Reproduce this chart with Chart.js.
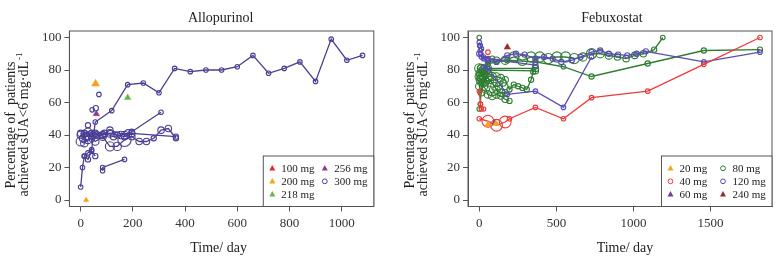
<!DOCTYPE html>
<html>
<head>
<meta charset="utf-8">
<script src="https://cdn.jsdelivr.net/npm/chart.js@4.4.0/dist/chart.umd.min.js"></script>
<style>
  html, body { margin: 0; padding: 0; background: #fff; }
  #wrap { position: relative; width: 783px; height: 264px; }
  canvas { position: absolute; top: 0; }
</style>
</head>
<body>
<div id="wrap">
  <canvas id="allo" width="391" height="264" style="left:0"></canvas>
  <canvas id="febu" width="392" height="264" style="left:391px"></canvas>
</div>
<script>
// ---- axis text ----
var xTitle = 'Time/ day';
var yTitle = ['Percentage of  patients', 'achieved sUA<6 mg\u00b7dL'];
var yTitleSup = '-1';
var yTicks = [0, 20, 40, 60, 80, 100];
var yTickLabels = ['0', '20', '40', '60', '80', '100'];
var xTicksAllo = [0, 200, 400, 600, 800, 1000];
var xTickLabelsAllo = ['0', '200', '400', '600', '800', '1000'];
var xTicksFebu = [0, 500, 1000, 1500];
var xTickLabelsFebu = ['0', '500', '1000', '1500'];

// ---- Allopurinol: [day, % at target, patients] ----
var allo100 = [];
var allo200 = [[57, 71.5, 60], [21, 0, 25]];
var allo218 = [[180, 63, 40]];
var allo256 = [[60, 53, 40]];
var allo300_long = [[0, 8, 30], [7, 20, 30], [14, 27, 30], [28, 29, 30], [42, 31, 30], [56, 48, 30], [119, 55, 30],
  [180, 71, 30], [240, 72, 30], [300, 66, 30], [360, 81, 30], [420, 79, 30], [480, 80, 30], [540, 80, 30],
  [600, 82, 30], [660, 89, 30], [720, 78, 30], [780, 81, 30], [840, 85, 30], [900, 73, 30], [960, 99, 30],
  [1020, 86, 30], [1080, 89, 30]];
var allo300_a = [[0, 41, 60], [28, 42, 80], [56, 41, 60], [84, 40, 60], [112, 43, 60], [168, 40, 80], [196, 42, 40], [308, 54, 30]];
var allo300_b = [[0, 40, 80], [14, 41, 60], [28, 39, 60], [56, 40, 60], [84, 40, 80], [112, 41, 80], [140, 40, 60],
  [168, 39, 60], [196, 41, 60], [365, 39, 40]];
var allo300_c = [[0, 36, 120], [14, 35, 80], [28, 37, 80], [42, 38, 60], [56, 36, 80], [84, 39, 80], [112, 33, 120],
  [140, 33, 100], [168, 37, 250], [196, 39, 60], [224, 36, 60], [252, 36, 60], [280, 38, 40], [308, 43, 60],
  [336, 44, 60], [365, 38, 40]];
var allo300_d = [[7, 38, 60], [21, 39, 80], [42, 41, 60], [63, 40, 60], [91, 41, 60], [126, 39, 60], [154, 40, 80], [182, 41, 80]];
var allo300_e = [[14, 27, 30], [28, 25, 40], [42, 30, 30], [56, 27, 40]];
var allo300_f = [[84, 18, 30], [84, 20, 30], [168, 25, 30]];
var allo300_single = [[28, 46, 40], [44, 55.5, 30], [58, 56.5, 40], [70, 65, 30]];

// ---- Febuxostat ----
var febu20 = [[56, 46.5, 40], [108, 47, 40]];
var febu60 = [[100, 47.5, 30]];
var febu240 = [[182, 94, 40]];
var febu40_a = [[0, 50, 30], [56, 48.5, 200], [112, 46, 200], [168, 48, 200], [196, 50, 30], [364, 57, 30], [546, 50, 30],
  [728, 63, 30], [1092, 67, 30], [1456, 83.5, 30], [1820, 100, 30]];
var febu40_b = [[0, 67, 20], [8, 59, 20], [14, 56, 20], [28, 56, 20]];
var febu40_c = [[56, 91, 30]];
var febu120_a = [[0, 90, 40], [14, 88, 30], [28, 87, 30], [56, 86, 40], [112, 85, 40], [182, 89, 40], [238, 90, 40],
  [294, 89.5, 40], [364, 87, 40], [420, 88, 40], [476, 87, 40], [532, 85, 40], [600, 86, 40], [656, 88, 40],
  [728, 91, 40], [784, 92, 40], [840, 90, 40], [900, 89.5, 40], [960, 89, 40], [1020, 90, 40], [1080, 91.5, 40],
  [1456, 85, 30], [1820, 91, 30]];
var febu120_b = [[0, 97, 30], [7, 95, 30], [14, 93, 30], [28, 88, 30], [56, 87, 30], [364, 83, 40]];
var febu120_c = [[28, 82, 30], [56, 81, 30], [182, 65, 30], [364, 67, 30], [546, 57, 30], [728, 88, 30]];
var febu120_single = [[3, 95, 30], [7, 92, 30], [10, 90, 30]];
var febu80_top = [[0, 100, 30]];
var febu80_a = [[0, 78, 60], [14, 81, 80], [28, 80, 100], [56, 86, 40], [84, 87, 40], [112, 86, 60], [168, 86, 100],
  [224, 88, 150], [280, 86, 150], [336, 88, 150], [392, 88, 150], [448, 87, 150], [504, 88, 150], [560, 88, 150],
  [616, 87, 150], [672, 88, 100], [728, 90, 150], [784, 90, 100], [840, 89, 80], [896, 88, 60], [952, 87, 60],
  [1008, 89, 60], [1064, 90, 60], [1134, 92.5, 40], [1190, 100, 30]];
var febu80_b = [[0, 56, 30], [7, 59, 30], [14, 72, 40], [28, 79, 40], [56, 84, 40], [182, 86, 40], [364, 85, 40],
  [546, 82, 30], [728, 76, 40], [1092, 84, 40], [1456, 92, 40], [1820, 92.5, 40]];
var febu80_c = [[14, 81, 100], [28, 80, 120], [56, 81, 80], [364, 81, 60]];
var febu80_d = [[14, 79, 80], [28, 78, 80], [56, 80, 60], [364, 79.5, 60]];
var febu80_e = [[0, 76, 100], [7, 74, 100], [14, 73, 120], [28, 70, 100], [42, 68, 80], [56, 65, 80], [84, 64, 80],
  [112, 65, 80], [140, 64, 60], [168, 62, 60], [196, 61, 40]];
var febu80_f = [[0, 81, 120], [14, 77, 120], [28, 76, 100], [56, 75, 100], [84, 72, 100], [112, 68, 80], [140, 66, 80], [168, 66, 60]];
var febu80_g = [[0, 70, 80], [14, 66, 60], [28, 72, 80], [56, 78, 80], [84, 76, 100], [112, 76, 80], [140, 75, 80],
  [168, 74, 60], [196, 68, 40], [224, 71, 40], [252, 70, 40], [280, 69, 40], [308, 68, 40], [336, 74, 40],
  [350, 79, 40], [364, 82, 30]];
var febu80_h = [[7, 75, 60], [21, 74, 80], [42, 73, 80], [70, 74, 80], [98, 70, 80], [126, 70, 80], [154, 72, 60]];

// ---- legends ----
var alloDoses = ['100 mg', '200 mg', '218 mg', '256 mg', '300 mg'];
var alloShapes = ['triangle', 'triangle', 'triangle', 'triangle', 'circle'];
var alloColors = ['#e8262a', '#f7a21b', '#63b847', '#8e3b91', '#4a3f94'];
var febuDoses = ['20 mg', '40 mg', '60 mg', '80 mg', '120 mg', '240 mg'];
var febuShapes = ['triangle', 'circle', 'triangle', 'circle', 'circle', 'triangle'];
var febuColors = ['#f7a21b', '#f03a3a', '#6b3fa0', '#2f7d32', '#5a4cb4', '#9e2a2b'];

Chart.defaults.font.family = '"Liberation Serif", "Times New Roman", serif';
Chart.defaults.color = '#222';

function radius(n) { return Math.max(2.2, Math.sqrt(n) / 2.4); }

function arm(points, color, withLine) {
  return {
    data: points.map(function (p) { return { x: p[0], y: p[1], n: p[2] }; }),
    showLine: withLine,
    borderColor: color,
    backgroundColor: color,
    borderWidth: 1.3,
    pointStyle: 'circle',
    pointBackgroundColor: 'rgba(0,0,0,0)',
    pointBorderColor: color,
    pointBorderWidth: 1.1,
    pointRadius: function (c) { return c.raw ? radius(c.raw.n) : 2.5; }
  };
}

function tri(points, color) {
  return {
    data: points.map(function (p) { return { x: p[0], y: p[1], n: p[2] }; }),
    showLine: false,
    pointStyle: 'triangle',
    backgroundColor: color,
    borderColor: color,
    pointBorderWidth: 0.5,
    pointRadius: function (c) { return c.raw ? Math.max(2.8, Math.sqrt(c.raw.n) / 1.7) : 3; }
  };
}

var panelFrame = {
  id: 'panelFrame',
  afterDraw: function (chart, args, o) {
    var ctx = chart.ctx, a = chart.chartArea;
    var cx = (a.left + a.right) / 2;
    ctx.save();
    ctx.strokeStyle = '#555';
    ctx.lineWidth = 1;
    ctx.strokeRect(a.left, a.top, a.right - a.left, a.bottom - a.top);

    ctx.fillStyle = '#222';
    ctx.textAlign = 'center';
    ctx.textBaseline = 'middle';
    ctx.font = '14px "Liberation Serif"';
    ctx.fillText(o.title, cx + o.titleDx, 18);
    ctx.fillText(xTitle, cx + o.xTitleDx, 248);

    // rotated y title, two lines
    ctx.save();
    ctx.translate(a.left - 58, 125);
    ctx.rotate(-Math.PI / 2);
    ctx.fillText(yTitle[0], 0, 0);
    var w1 = ctx.measureText(yTitle[1]).width;
    ctx.font = '9px "Liberation Serif"';
    var w2 = ctx.measureText(yTitleSup).width;
    ctx.textAlign = 'left';
    ctx.font = '14px "Liberation Serif"';
    ctx.fillText(yTitle[1], -(w1 + w2) / 2, 13);
    ctx.font = '9px "Liberation Serif"';
    ctx.fillText(yTitleSup, -(w1 + w2) / 2 + w1 + 1, 8);
    ctx.restore();

    // legend box in the bottom right corner
    var lw = 110.5, lh = 50.5;
    var lx = a.right - lw, ly = a.bottom - lh;
    ctx.fillStyle = '#fff';
    ctx.fillRect(lx, ly, lw, lh);
    ctx.strokeRect(lx, ly, lw, lh);
    ctx.font = '11px "Liberation Serif"';
    ctx.textAlign = 'left';
    for (var i = 0; i < o.labels.length; i++) {
      var col = Math.floor(i / 3), row = i % 3;
      var sx = lx + (col ? 61.5 : 9), sy = ly + 12.3 + row * 13;
      ctx.fillStyle = o.colors[i];
      ctx.strokeStyle = o.colors[i];
      if (o.shapes[i] === 'triangle') {
        ctx.beginPath();
        ctx.moveTo(sx, sy - 3.3);
        ctx.lineTo(sx + 3, sy + 2.2);
        ctx.lineTo(sx - 3, sy + 2.2);
        ctx.closePath();
        ctx.fill();
      } else {
        ctx.lineWidth = 1;
        ctx.beginPath();
        ctx.arc(sx, sy, 2.4, 0, Math.PI * 2);
        ctx.stroke();
      }
      ctx.fillStyle = '#222';
      ctx.fillText(o.labels[i], lx + (col ? 71 : 18), sy + 0.5);
    }
    ctx.restore();
  }
};

function scales(xMin, xMax, xTicks, xLabels, yWidth) {
  var tickFont = { size: 13 };
  return {
    x: {
      type: 'linear', min: xMin, max: xMax,
      afterBuildTicks: function (s) { s.ticks = xTicks.map(function (v) { return { value: v }; }); },
      afterFit: function (s) { s.height = 57.5; },
      ticks: { font: tickFont, color: '#333', padding: 4, autoSkip: false, maxRotation: 0,
        callback: function (v, i) { return xLabels[i]; } },
      grid: { drawOnChartArea: false, drawTicks: true, tickLength: 5, color: '#555' },
      border: { display: true, color: '#555' }
    },
    y: {
      type: 'linear', min: -4, max: 104,
      afterBuildTicks: function (s) { s.ticks = yTicks.map(function (v) { return { value: v }; }); },
      afterFit: function (s) { s.width = yWidth; },
      ticks: { font: tickFont, color: '#333', padding: 3, autoSkip: false,
        callback: function (v, i) { return yTickLabels[i]; } },
      grid: { drawOnChartArea: false, drawTicks: true, tickLength: 5, color: '#555' },
      border: { display: true, color: '#555' }
    }
  };
}

var navy = alloColors[4];
new Chart(document.getElementById('allo').getContext('2d'), {
  type: 'scatter',
  data: {
    datasets: [
      tri(allo100, alloColors[0]),
      tri(allo200, alloColors[1]),
      tri(allo218, alloColors[2]),
      tri(allo256, alloColors[3]),
      arm(allo300_long, navy, true),
      arm(allo300_a, navy, true),
      arm(allo300_b, navy, true),
      arm(allo300_c, navy, true),
      arm(allo300_d, navy, true),
      arm(allo300_e, navy, true),
      arm(allo300_f, navy, true),
      arm(allo300_single, navy, false)
    ]
  },
  options: {
    responsive: false,
    animation: false,
    layout: { padding: { left: 0, right: 17.2, top: 31, bottom: 0 } },
    scales: scales(-43.2, 1123.2, xTicksAllo, xTickLabelsAllo, 69.4),
    plugins: {
      legend: { display: false },
      tooltip: { enabled: false },
      panelFrame: { title: 'Allopurinol', titleDx: -1, xTitleDx: -3,
        labels: alloDoses, shapes: alloShapes, colors: alloColors }
    }
  },
  plugins: [panelFrame]
});

var red = febuColors[1], green = febuColors[3], blue = febuColors[4];
new Chart(document.getElementById('febu').getContext('2d'), {
  type: 'scatter',
  data: {
    datasets: [
      tri(febu20, febuColors[0]),
      tri(febu240, febuColors[5]),
      tri(febu60, febuColors[2]),
      arm(febu40_a, red, true),
      arm(febu40_b, red, true),
      arm(febu40_c, red, false),
      arm(febu120_a, blue, true),
      arm(febu120_b, blue, true),
      arm(febu120_c, blue, true),
      arm(febu120_single, blue, false),
      arm(febu80_top, green, false),
      arm(febu80_a, green, true),
      arm(febu80_b, green, true),
      arm(febu80_c, green, true),
      arm(febu80_d, green, true),
      arm(febu80_e, green, true),
      arm(febu80_f, green, true),
      arm(febu80_g, green, true),
      arm(febu80_h, green, true)
    ]
  },
  options: {
    responsive: false,
    animation: false,
    layout: { padding: { left: 0, right: 11, top: 31, bottom: 0 } },
    scales: scales(-73, 1898, xTicksFebu, xTickLabelsFebu, 77),
    plugins: {
      legend: { display: false },
      tooltip: { enabled: false },
      panelFrame: { title: 'Febuxostat', titleDx: -8, xTitleDx: 5,
        labels: febuDoses, shapes: febuShapes, colors: febuColors }
    }
  },
  plugins: [panelFrame]
});
</script>
</body>
</html>
